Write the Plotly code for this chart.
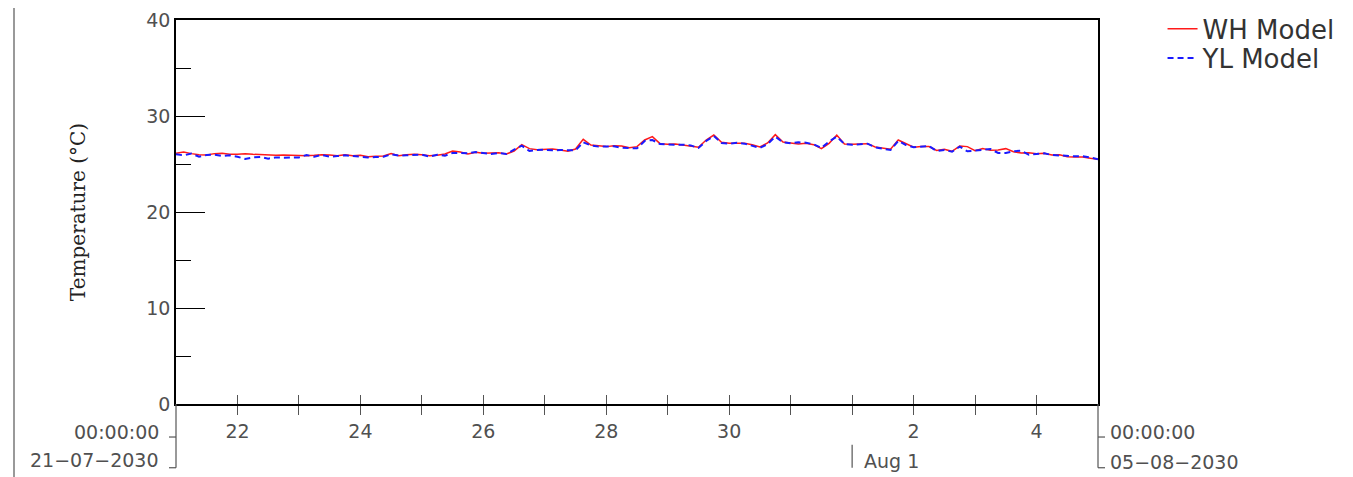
import pandas as pd
import plotly.graph_objects as go

# ---- data (3-hourly, 21-07-2030 00:00 to 05-08-2030 00:00) ----
start = "2030-07-21 00:00"
end = "2030-08-05 00:00"
step = "3h"

wh_model = [
    26.11, 26.25, 26.08, 25.97, 25.94, 26.08, 26.11, 26.01, 26.01, 26.08,
    26.01, 25.97, 25.94, 25.90, 25.94, 25.90, 25.87, 25.87, 25.90, 25.97,
    25.94, 25.87, 25.97, 25.87, 25.90, 25.76, 25.80, 25.83, 26.08, 25.87,
    25.97, 26.01, 25.97, 25.87, 25.90, 26.04, 26.35, 26.25, 26.04, 26.22,
    26.11, 26.11, 26.18, 26.04, 26.35, 27.01, 26.60, 26.49, 26.53, 26.56,
    26.46, 26.32, 26.56, 27.57, 26.98, 26.88, 26.81, 26.91, 26.88, 26.70,
    26.81, 27.50, 27.85, 27.12, 27.05, 27.08, 26.98, 26.88, 26.74, 27.50,
    28.02, 27.26, 27.15, 27.15, 27.15, 27.01, 26.77, 27.19, 28.06, 27.29,
    27.15, 27.08, 27.15, 27.01, 26.60, 27.15, 28.02, 27.08, 27.05, 27.05,
    27.12, 26.77, 26.67, 26.53, 27.50, 27.08, 26.74, 26.81, 26.81, 26.42,
    26.53, 26.32, 26.88, 26.81, 26.39, 26.60, 26.42, 26.46, 26.60, 26.28,
    26.15, 26.18, 26.08, 26.11, 25.94, 25.97, 25.76, 25.73, 25.73, 25.59,
    25.49,
]
yl_model = [
    26.01, 25.90, 26.08, 25.76, 25.94, 25.97, 25.83, 25.90, 25.76, 25.52,
    25.69, 25.73, 25.56, 25.69, 25.66, 25.69, 25.69, 25.94, 25.76, 25.94,
    25.76, 25.83, 25.90, 25.83, 25.76, 25.69, 25.73, 25.76, 26.01, 25.87,
    25.90, 25.97, 25.97, 25.76, 25.97, 25.87, 26.15, 26.15, 26.11, 26.25,
    26.11, 26.04, 26.15, 26.04, 26.49, 26.91, 26.35, 26.46, 26.49, 26.42,
    26.46, 26.42, 26.42, 27.26, 26.94, 26.81, 26.81, 26.84, 26.70, 26.63,
    26.63, 27.40, 27.50, 27.08, 27.01, 27.01, 27.01, 26.94, 26.67, 27.40,
    27.92, 27.19, 27.12, 27.22, 27.12, 26.91, 26.67, 27.08, 27.85, 27.26,
    27.15, 27.26, 27.22, 27.05, 26.67, 27.33, 27.85, 27.08, 27.01, 27.05,
    27.12, 26.74, 26.56, 26.46, 27.40, 26.98, 26.74, 26.81, 26.88, 26.35,
    26.46, 26.28, 26.81, 26.32, 26.39, 26.42, 26.56, 26.15, 26.15, 26.32,
    26.39, 25.97, 26.04, 26.11, 25.94, 25.87, 25.87, 25.80, 25.80, 25.69,
    25.49,
]

tick_days = pd.date_range("2030-07-22", "2030-08-04", freq="D")
tick_text = ["22", "", "24", "", "26", "", "28", "", "30", "", "", "2", "", "4"]
y_ticks = [0, 10, 20, 30, 40]
y_range = [0, 40]
month_mark = "2030-08-01"
month_label = "Aug 1"
start_time_label = "00:00:00"
start_date_label = "21−07−2030"
end_time_label = "00:00:00"
end_date_label = "05−08−2030"

times = pd.date_range(start, end, freq=step)

TICKFONT = dict(family="DejaVu Sans", size=19, color="#505050")
LEGFONT = dict(family="DejaVu Sans", size=26, color="#333333")
GRAY = "#555555"
PLOT_W = 922  # plot-area width in px (for pixel-sized decorations)

fig = go.Figure()
fig.add_trace(go.Scatter(x=times, y=wh_model, name="WH Model", mode="lines",
                         line=dict(color="#ff1a1a", width=1.5), legend="legend"))
fig.add_trace(go.Scatter(x=times, y=yl_model, name="YL Model", mode="lines",
                         line=dict(color="#1a1aff", width=2, dash="6px,4px"),
                         legend="legend2"))

# page body has an 8px margin: figure is sized/margined to compensate
fig.update_layout(
    width=1345, height=469,
    margin=dict(l=168, r=255, t=12, b=73, autoexpand=False),
    paper_bgcolor="white", plot_bgcolor="white",
    showlegend=True,
    legend=dict(x=1.07, y=0.977, xanchor="left", yanchor="middle",
                font=LEGFONT, bgcolor="rgba(0,0,0,0)", itemwidth=30),
    legend2=dict(x=1.07, y=0.901, xanchor="left", yanchor="middle",
                 font=LEGFONT, bgcolor="rgba(0,0,0,0)", itemwidth=30),
    xaxis=dict(type="date", range=[start, end], showgrid=False, zeroline=False,
               showline=True, linecolor="black", linewidth=1.5, mirror=True,
               tickvals=tick_days, ticktext=tick_text, ticks="outside", ticklen=9,
               tickcolor=GRAY, tickwidth=1.2, tickfont=TICKFONT),
    xaxis2=dict(type="date", range=[start, end], overlaying="x", matches="x",
                anchor="y", side="bottom", showgrid=False, zeroline=False,
                showline=False, tickvals=tick_days, ticks="inside", ticklen=9,
                tickcolor=GRAY, tickwidth=1.2, showticklabels=False),
    yaxis=dict(range=y_range, showgrid=False, zeroline=False, showline=True,
               linecolor="black", linewidth=1.5, mirror=True,
               tickvals=y_ticks, ticks="inside", ticklen=29, tickcolor="black",
               tickwidth=1.2, tickfont=TICKFONT,
               minor=dict(dtick=5, ticks="inside", ticklen=15, tickcolor="black",
                          tickwidth=1.2),
               title=dict(text="Temperature (°C)", standoff=55,
                          font=dict(family="DejaVu Serif", size=20, color="#222222"))),
)

# invisible trace so that the overlaid x2 axis (inner tick halves) renders
fig.add_trace(go.Scatter(x=[start, end], y=y_range, xaxis="x2", mode="none",
                         showlegend=False, hoverinfo="skip"))

# bracket lines below the axis ends, with short horizontal ticks
for px, d in ((0.0, -1), (1.0, 1)):
    fig.add_shape(type="line", xref="paper", yref="paper", x0=px, x1=px, y0=0, y1=-0.166,
                  line=dict(color=GRAY, width=1.2))
    for yy in (-0.086, -0.166):
        fig.add_shape(type="line", xref="paper", yref="paper",
                      x0=px, x1=px + d * 7 / PLOT_W, y0=yy, y1=yy,
                      line=dict(color=GRAY, width=1.2))

fig.add_shape(type="line", xref="x", yref="paper", x0=month_mark, x1=month_mark,
              y0=-0.106, y1=-0.166, line=dict(color=GRAY, width=1.2))

ANN = dict(family="DejaVu Sans", size=19, color="#505050")
fig.add_annotation(x=start, y=-0.073, xref="x", yref="paper", text=start_time_label,
                   showarrow=False, xanchor="right", yanchor="middle", xshift=-15, font=ANN)
fig.add_annotation(x=start, y=-0.146, xref="x", yref="paper", text=start_date_label,
                   showarrow=False, xanchor="right", yanchor="middle", xshift=-15, font=ANN)
fig.add_annotation(x=end, y=-0.073, xref="x", yref="paper", text=end_time_label,
                   showarrow=False, xanchor="left", yanchor="middle", xshift=10, font=ANN)
fig.add_annotation(x=end, y=-0.151, xref="x", yref="paper", text=end_date_label,
                   showarrow=False, xanchor="left", yanchor="middle", xshift=10, font=ANN)
fig.add_annotation(x=month_mark, y=-0.148, xref="x", yref="paper", text=month_label,
                   showarrow=False, xanchor="left", yanchor="middle", xshift=10, font=ANN)

# page border line on the left
fig.add_shape(type="line", xref="paper", yref="paper", x0=-0.1757, x1=-0.1757,
              y0=-0.2, y1=1.06, line=dict(color="#999999", width=2))

fig.write_html("out.html")
